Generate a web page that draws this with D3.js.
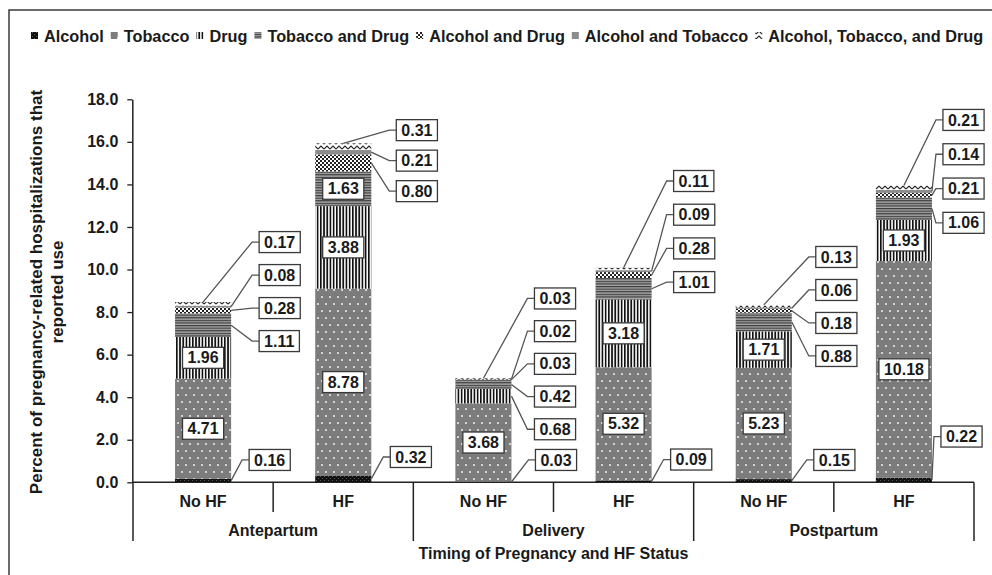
<!DOCTYPE html>
<html>
<head>
<meta charset="utf-8">
<script src="https://cdn.jsdelivr.net/npm/d3@7"></script>
<style>
  body { margin: 0; background: #fff; }
  text { font-family: "Liberation Sans", Arial, sans-serif; font-weight: bold; fill: #1a1a1a; }
</style>
</head>
<body>
<svg id="chart" width="992" height="575"></svg>
<script>
// Data
const timings = ["Antepartum", "Delivery", "Postpartum"];
const hfStatus = ["No HF", "HF"];
const seriesNames = ["Alcohol", "Tobacco", "Drug", "Tobacco and Drug", "Alcohol and Drug",
                     "Alcohol and Tobacco", "Alcohol, Tobacco, and Drug"];
const alcohol            = [0.16, 0.32, 0.03, 0.09, 0.15, 0.22];
const tobacco            = [4.71, 8.78, 3.68, 5.32, 5.23, 10.18];
const drug               = [1.96, 3.88, 0.68, 3.18, 1.71, 1.93];
const tobaccoDrug        = [1.11, 1.63, 0.42, 1.01, 0.88, 1.06];
const alcoholDrug        = [0.28, 0.80, 0.03, 0.28, 0.18, 0.21];
const alcoholTobacco     = [0.08, 0.21, 0.02, 0.09, 0.06, 0.14];
const alcoholTobaccoDrug = [0.17, 0.31, 0.03, 0.11, 0.13, 0.21];
const yTicks = [0, 2, 4, 6, 8, 10, 12, 14, 16, 18];

// hand placed callouts in the original (value of top box centre, spacing px, offset px)
const calloutTop = [11.29, 16.55, 8.64, 14.16, 10.59, 17.03];
const calloutGap = [33, 30.5, 32.7, 33.7, 33, 34.3];
const calloutDx  = [28, 25, 23, 22, 24, 11];
const alcoholAt  = [1.05, 1.19, 1.05, 1.07, 1.05, 2.15];
const alcoholDx  = [18, 19, 24, 19, 22, 9];

const svg = d3.select("#chart");
const keys = ["a", "t", "d", "td", "ad", "at", "atd"];
const patternIds = ["p-alc", "p-tob", "p-drug", "p-td", "p-ad", "p-at", "p-atd"];

const rows = [];
timings.forEach((tm, gi) => hfStatus.forEach((hf, hi) => {
    const i = gi * 2 + hi;
    rows.push({ id: tm + "|" + hf, timing: tm, hf: hf, i: i,
        a: alcohol[i], t: tobacco[i], d: drug[i], td: tobaccoDrug[i],
        ad: alcoholDrug[i], at: alcoholTobacco[i], atd: alcoholTobaccoDrug[i] });
}));

// patterns
const defs = svg.append("defs");
function pat(id, w, h) {
    return defs.append("pattern").attr("id", id).attr("patternUnits", "userSpaceOnUse")
        .attr("width", w).attr("height", h);
}
let p = pat("p-alc", 4, 4);
p.append("rect").attr("width", 4).attr("height", 4).attr("fill", "#111");
p.append("rect").attr("x", 0).attr("y", 0).attr("width", 1).attr("height", 1).attr("fill", "#5a5a5a");
p.append("rect").attr("x", 2).attr("y", 2).attr("width", 1).attr("height", 1).attr("fill", "#5a5a5a");

p = pat("p-tob", 8, 14);
p.append("rect").attr("width", 8).attr("height", 14).attr("fill", "#7c7c7c");
p.append("rect").attr("x", 1).attr("y", 1).attr("width", 1).attr("height", 1).attr("fill", "#6a6a6a");
p.append("rect").attr("x", 5).attr("y", 5).attr("width", 1).attr("height", 1).attr("fill", "#6a6a6a");
p.append("circle").attr("cx", 2).attr("cy", 3).attr("r", 1.1).attr("fill", "#e8e8e8");
p.append("circle").attr("cx", 6).attr("cy", 10).attr("r", 1.1).attr("fill", "#e8e8e8");

p = pat("p-drug", 3.2, 4);
p.append("rect").attr("width", 3.2).attr("height", 4).attr("fill", "#fff");
p.append("rect").attr("width", 1.7).attr("height", 4).attr("fill", "#111");

p = pat("p-td", 4, 2.6);
p.append("rect").attr("width", 4).attr("height", 2.6).attr("fill", "#a8a8a8");
p.append("rect").attr("width", 4).attr("height", 1.2).attr("fill", "#3a3a3a");

p = pat("p-ad", 4, 4);
p.append("rect").attr("width", 4).attr("height", 4).attr("fill", "#fff");
p.append("rect").attr("width", 2).attr("height", 2).attr("fill", "#222");
p.append("rect").attr("x", 2).attr("y", 2).attr("width", 2).attr("height", 2).attr("fill", "#222");

p = pat("p-at", 4, 4);
p.append("rect").attr("width", 4).attr("height", 4).attr("fill", "#8c8c8c");

p = pat("p-atd", 6, 5);
p.append("rect").attr("width", 6).attr("height", 5).attr("fill", "#fff");
p.append("path").attr("d", "M0,4 L3,1 L6,4").attr("fill", "none").attr("stroke", "#222").attr("stroke-width", 1.1);

// outer frame
svg.append("rect").attr("x", 9).attr("y", 10).attr("width", 1000).attr("height", 600)
    .attr("fill", "none").attr("stroke", "#3a3a3a").attr("stroke-width", 1.5);

// scales
const x = d3.scaleBand().domain(rows.map(r => r.id)).range([133, 974])
    .paddingInner(0.6).paddingOuter(0.3);
const y = d3.scaleLinear().domain([0, 18]).range([482.3, 99.3]);
const step = x.step();
const bw = x.bandwidth();

// legend
const legend = svg.append("g").attr("class", "legend");
let lx = 31;
seriesNames.forEach((name, k) => {
    legend.append("rect").attr("x", lx).attr("y", 32).attr("width", 7).attr("height", 7)
        .attr("fill", `url(#${patternIds[k]})`);
    const t = legend.append("text").attr("x", lx + 13).attr("y", 41.5)
        .style("font-size", "16.3px").text(name);
    lx += 13 + t.node().getComputedTextLength() + 7;
});

// y axis title
const yTitle = svg.append("g").attr("transform", "translate(0,292) rotate(-90)");
yTitle.append("text").attr("x", 0).attr("y", 42).attr("text-anchor", "middle")
    .style("font-size", "17px").text("Percent of pregnancy-related hospitalizations that");
yTitle.append("text").attr("x", 0).attr("y", 63).attr("text-anchor", "middle")
    .style("font-size", "17px").text("reported use");

// y axis
const yAxis = svg.append("g").attr("class", "y axis").attr("transform", "translate(132.3,0)")
    .call(d3.axisLeft(y).tickValues(yTicks).tickFormat(d3.format(".1f")).tickSize(5).tickSizeOuter(0).tickPadding(9));
yAxis.select(".domain").attr("stroke", "#222").attr("stroke-width", 1.5);
yAxis.selectAll(".tick line").attr("stroke", "#222").attr("stroke-width", 1.3);
yAxis.selectAll(".tick text").style("font-size", "16px").attr("fill", "#1a1a1a")
    .style("font-family", "'Liberation Sans', Arial, sans-serif").style("font-weight", "bold");

// x axis line and category separators
svg.append("line").attr("x1", 132.3).attr("x2", 974).attr("y1", y(0)).attr("y2", y(0))
    .attr("stroke", "#222").attr("stroke-width", 1.5);
rows.forEach((r, i) => {
    const left = x(r.id) - step * 0.3;
    const long = i % 2 === 0;
    svg.append("line").attr("x1", left).attr("x2", left).attr("y1", y(0)).attr("y2", long ? 541 : 512)
        .attr("stroke", "#222").attr("stroke-width", 1.5);
});
svg.append("line").attr("x1", 974).attr("x2", 974).attr("y1", y(0)).attr("y2", 541)
    .attr("stroke", "#222").attr("stroke-width", 1.5);

svg.selectAll(".hf-label").data(rows).join("text").attr("class", "hf-label")
    .attr("x", d => x(d.id) + bw / 2).attr("y", 506.5).attr("text-anchor", "middle")
    .style("font-size", "16px").text(d => d.hf);
timings.forEach((tm, gi) => {
    const a = x(rows[gi * 2].id) - step * 0.3;
    svg.append("text").attr("x", a + step).attr("y", 535.5).attr("text-anchor", "middle")
        .style("font-size", "16px").text(tm);
});
svg.append("text").attr("x", 553.5).attr("y", 558.5).attr("text-anchor", "middle")
    .style("font-size", "16px").text("Timing of Pregnancy and HF Status");

// stacked bars
const stacked = d3.stack().keys(keys)(rows);
svg.append("g").selectAll("g").data(stacked).join("g")
    .attr("fill", (s, k) => `url(#${patternIds[k]})`)
    .selectAll("rect").data(s => s).join("rect")
    .attr("x", d => x(d.data.id))
    .attr("width", bw)
    .attr("y", d => y(d[1]))
    .attr("height", d => y(d[0]) - y(d[1]));

// value labels
const fmt = d3.format(".2f");
const labels = svg.append("g");
function box(cx, cy, txt, anchorLeft) {
    const g = labels.append("g");
    const t = g.append("text").attr("y", cy).attr("dy", "0.35em").style("font-size", "16px").text(txt);
    const w = t.node().getComputedTextLength() + 10;
    const bx = anchorLeft ? cx : cx - w / 2;
    g.insert("rect", "text").attr("x", bx).attr("y", cy - 10.5).attr("width", w).attr("height", 21)
        .attr("fill", "#fff").attr("stroke", "#3a3a3a").attr("stroke-width", 1.3);
    t.attr("x", bx + w / 2).attr("text-anchor", "middle");
}
function leader(points) {
    labels.append("polyline").attr("points", points.map(p => p.join(",")).join(" "))
        .attr("fill", "none").attr("stroke", "#555").attr("stroke-width", 1.3);
}

rows.forEach((r, i) => {
    const segs = keys.map(k => stacked[keys.indexOf(k)][i]);
    const left = x(r.id), right = left + bw, cx = left + bw / 2;

    // alcohol callout at the bottom
    const aY = y(alcoholAt[i]), aX = right + alcoholDx[i];
    leader([[right, y((segs[0][0] + segs[0][1]) / 2)], [aX - 7, aY], [aX, aY]]);
    box(aX, aY, fmt(r.a), true);

    // inside labels (tobacco, and big drug / tobacco-drug)
    const outside = [];
    segs.forEach((s, k) => {
        if (k === 0) return;
        const v = s[1] - s[0];
        if (k <= 3 && v >= 1.3) box(cx, y((s[0] + s[1]) / 2), fmt(v), false);
        else outside.push(k);
    });

    // stacked callouts on the right, top segment first
    outside.reverse().forEach((k, n) => {
        const s = segs[k];
        const bY = y(calloutTop[i]) + n * calloutGap[i];
        const bX = right + calloutDx[i];
        const anchor = k === keys.length - 1 ? [cx, y(s[1])] : [right, y((s[0] + s[1]) / 2)];
        leader([anchor, [bX - 7, bY], [bX, bY]]);
        box(bX, bY, fmt(s[1] - s[0]), true);
    });
});
</script>
</body>
</html>
